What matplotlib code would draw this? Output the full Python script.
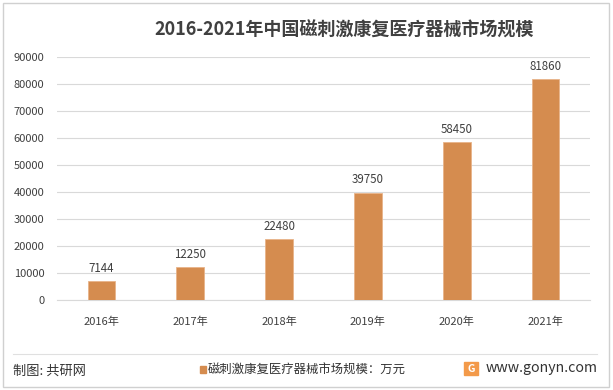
import matplotlib
matplotlib.use("Agg")
import matplotlib.pyplot as plt
from matplotlib.patches import Rectangle
from matplotlib.lines import Line2D

plt.rcParams['font.family'] = ['Noto Sans CJK SC', 'DejaVu Sans']

years = ['2016年', '2017年', '2018年', '2019年', '2020年', '2021年']
values = [7144, 12250, 22480, 39750, 58450, 81860]
yticks = [0, 10000, 20000, 30000, 40000, 50000, 60000, 70000, 80000, 90000]

bar_color = '#D58C4F'
text_color = '#404040'

fig = plt.figure(figsize=(6.13, 3.9), dpi=100)
ax = fig.add_axes([57/613, 1-300/390, (590-57)/613, (300-57)/390])

x = range(len(years))
ax.bar(x, values, width=0.31, color=bar_color, edgecolor='#E8B48A', linewidth=0.6, zorder=3)
for xi, v in zip(x, values):
    ax.text(xi, v + 2300, str(v), ha='center', va='bottom', fontsize=8.3, color=text_color)

ax.set_ylim(0, 90000)
ax.set_xlim(-0.5, len(years) - 0.5)
ax.set_yticks(yticks)
ax.set_yticklabels([str(t) for t in yticks], fontsize=8, color=text_color)
ax.set_xticks(list(x))
ax.set_xticklabels(years, fontsize=8, color=text_color)
ax.yaxis.grid(True, color='#D9D9D9', linewidth=0.8, zorder=0)
for s in ['top', 'right', 'left']:
    ax.spines[s].set_visible(False)
ax.spines['bottom'].set_color('#D9D9D9')
ax.tick_params(axis='x', length=0, pad=12)
ax.tick_params(axis='y', length=0, pad=9)

fig.text(344/613, 1-30/390, '2016-2021年中国磁刺激康复医疗器械市场规模', ha='center', va='center',
         fontsize=13, fontweight='bold', color=text_color)

# outer border
fig.patches.append(Rectangle((3/613, 3/390), 606/613, 384/390, transform=fig.transFigure,
                             fill=False, edgecolor='#D0D0D0', linewidth=1))
# separator line
fig.lines.append(Line2D([13/613, 597/613], [1-354/390, 1-354/390], transform=fig.transFigure,
                        color='#E0E0E0', linewidth=0.8))

fig.text(13/613, 1-371/390, '制图: 共研网', ha='left', va='center', fontsize=9.5, color='#333333')
fig.patches.append(Rectangle((200/613, 1-373/390), 5.5/613, 7/390, transform=fig.transFigure,
                             color=bar_color))
fig.text(208/613, 1-370/390, '磁刺激康复医疗器械市场规模：万元', ha='left', va='center', fontsize=8.9, color='#333333')

# logo
fig.patches.append(Rectangle((464/613, 1-375/390), 14/613, 13/390, transform=fig.transFigure,
                             color='#F39A4A'))
fig.text(471/613, 1-368.5/390, 'G', ha='center', va='center', fontsize=7.5, fontweight='bold', color='white')
fig.text(486/613, 1-368/390, 'www.gonyn.com', ha='left', va='center', fontsize=10.2, color='#333333')

fig.savefig('out.png', dpi=100)
